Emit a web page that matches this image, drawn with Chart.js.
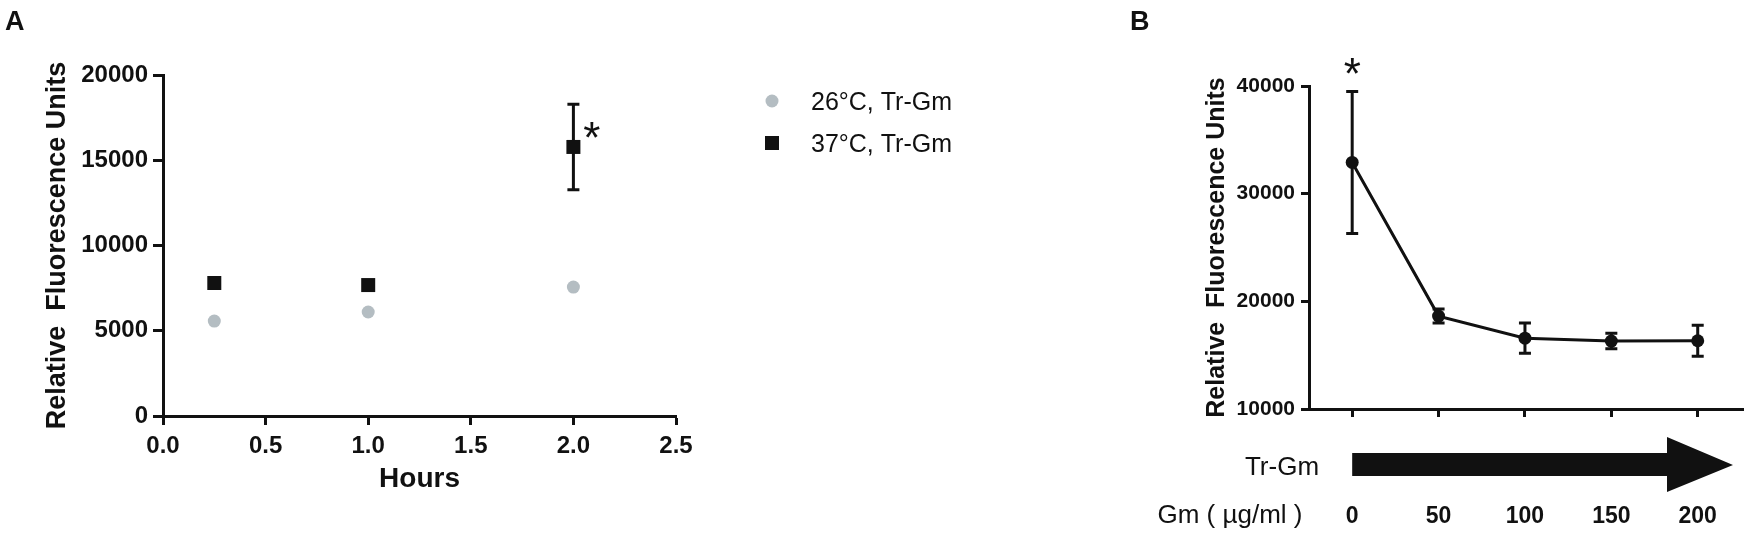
<!DOCTYPE html>
<html>
<head>
<meta charset="utf-8">
<script src="https://cdn.jsdelivr.net/npm/chart.js@4.4.1/dist/chart.umd.min.js"></script>
<style>
  html, body { margin: 0; padding: 0; background: #fff; }
  body { width: 1750px; height: 538px; position: relative; overflow: hidden; }
  canvas { position: absolute; top: 0; }
  #chart-a { left: 0; }
  #chart-b { left: 1050px; }
</style>
</head>
<body>
<canvas id="chart-a" width="1000" height="538"></canvas>
<canvas id="chart-b" width="700" height="538"></canvas>
<script>
'use strict';

/* ---------- Panel A: RFU over time ---------- */
const hours     = [0.25, 1.0, 2.0];
const rfu26     = [5570, 6100, 7560];
const rfu37     = [7800, 7680, 15780];
const err37     = [0, 0, 2510];
const hourTicks = [0, 0.5, 1.0, 1.5, 2.0, 2.5];
const rfuTicksA = [0, 5000, 10000, 15000, 20000];
const starA     = { x: 2.09, y: 16630 };

/* ---------- Panel B: Gm dose series ---------- */
const gmDoses   = [0, 50, 100, 150, 200];
const rfuDose   = [32900, 18630, 16580, 16310, 16340];
const errDose   = [6600, 650, 1400, 720, 1450];
const rfuTicksB = [10000, 20000, 30000, 40000];
const starB     = { x: 0, y: 41600 };

const INK  = '#111111';
const GRAY = '#b4bdc2';
const FONT = '"Liberation Sans", Arial, Helvetica, sans-serif';
const STAR_SIZE = 44;

Chart.defaults.font.family = FONT;
Chart.defaults.color = INK;

// fixed axis box so the plot area lands where the figure has it
function fixBox(size) {
  return scale => {
    if (scale.isHorizontal()) scale.height = size;
    else scale.width = size;
    scale.paddingTop = scale.paddingBottom = 0;
    scale.paddingLeft = scale.paddingRight = 0;
  };
}

function useTicks(values) {
  return scale => { scale.ticks = values.map(v => ({ value: v })); };
}

function toPoints(xs, ys) {
  return xs.map((x, i) => ({ x, y: ys[i] }));
}

function capText(ctx, text, x, cy, size, weight) {
  ctx.font = `${weight || 'normal'} ${size}px ${FONT}`;
  ctx.textBaseline = 'alphabetic';
  ctx.fillText(text, x, cy + size * 0.358);
}

function drawStar(chart, pt) {
  const { ctx, scales: { x, y } } = chart;
  ctx.save();
  ctx.fillStyle = INK;
  ctx.font = `${STAR_SIZE}px ${FONT}`;
  ctx.textAlign = 'center';
  ctx.textBaseline = 'alphabetic';
  ctx.fillText('*', x.getPixelForValue(pt.x), y.getPixelForValue(pt.y) + STAR_SIZE * 0.47);
  ctx.restore();
}

/* ---------- error bars (mean ± err) ---------- */
const errorBars = {
  id: 'errorBars',
  beforeDatasetsDraw(chart) {
    const { ctx, scales: { x, y } } = chart;
    chart.data.datasets.forEach(ds => {
      if (!ds.errors) return;
      ctx.save();
      ctx.strokeStyle = ds.pointBackgroundColor;
      ctx.lineWidth = 3;
      ds.data.forEach((p, j) => {
        const e = ds.errors[j];
        if (!e) return;
        const px  = x.getPixelForValue(p.x);
        const top = y.getPixelForValue(p.y + e);
        const bot = y.getPixelForValue(p.y - e);
        ctx.beginPath();
        ctx.moveTo(px, top);     ctx.lineTo(px, bot);
        ctx.moveTo(px - 6, top); ctx.lineTo(px + 6, top);
        ctx.moveTo(px - 6, bot); ctx.lineTo(px + 6, bot);
        ctx.stroke();
      });
      ctx.restore();
    });
  }
};

/* ---------- panel A extras: legend, star, letter ---------- */
const panelA = {
  id: 'panelA',
  afterDraw(chart) {
    const ctx = chart.ctx;
    ctx.save();
    ctx.fillStyle = INK;
    ctx.textAlign = 'left';
    capText(ctx, 'A', 5, 20, 27, 'bold');

    chart.data.datasets.forEach((ds, i) => {
      const cy = 101 + i * 42;
      ctx.fillStyle = ds.pointBackgroundColor;
      if (ds.pointStyle === 'rect') {
        ctx.fillRect(765, cy - 7, 14, 14);
      } else {
        ctx.beginPath();
        ctx.arc(772, cy, 6.5, 0, Math.PI * 2);
        ctx.fill();
      }
      ctx.fillStyle = INK;
      capText(ctx, ds.label, 811, cy, 25);
    });
    ctx.restore();
    drawStar(chart, starA);
  }
};

/* ---------- panel B extras: arrow, dose labels, star, letter ---------- */
const panelB = {
  id: 'panelB',
  afterDraw(chart) {
    const { ctx, scales: { x } } = chart;
    const x0 = x.getPixelForValue(gmDoses[0]);
    ctx.save();
    ctx.fillStyle = INK;
    ctx.textAlign = 'left';
    capText(ctx, 'B', 80, 20, 27, 'bold');

    // Tr-Gm arrow
    ctx.beginPath();
    ctx.moveTo(x0, 453);
    ctx.lineTo(617, 453);
    ctx.lineTo(617, 437);
    ctx.lineTo(683, 465);
    ctx.lineTo(617, 492);
    ctx.lineTo(617, 476);
    ctx.lineTo(x0, 476);
    ctx.closePath();
    ctx.fill();

    ctx.textAlign = 'center';
    capText(ctx, 'Tr-Gm', 232, 466, 26);
    capText(ctx, 'Gm ( µg/ml )', 180, 514, 26);
    ctx.restore();
    drawStar(chart, starB);
  }
};

function axisBase(tickLength) {
  return {
    type: 'linear',
    border: { display: true, color: INK, width: 3 },
    grid: { drawOnChartArea: false, drawTicks: true, tickLength, tickWidth: 3, tickColor: INK },
  };
}

/* ---------- Chart A ---------- */
new Chart(document.getElementById('chart-a'), {
  type: 'scatter',
  data: {
    datasets: [
      {
        label: '26°C, Tr-Gm',
        data: toPoints(hours, rfu26),
        pointStyle: 'circle',
        pointRadius: 6.5,
        pointBorderWidth: 0,
        pointBackgroundColor: GRAY,
      },
      {
        label: '37°C, Tr-Gm',
        data: toPoints(hours, rfu37),
        errors: err37,
        pointStyle: 'rect',
        pointRadius: 9.9,
        pointBorderWidth: 0,
        pointBackgroundColor: INK,
      },
    ],
  },
  options: {
    responsive: false,
    animation: false,
    layout: { padding: { left: 0, top: 75, right: 324, bottom: 0 } },
    plugins: { legend: { display: false }, tooltip: { enabled: false } },
    scales: {
      x: {
        ...axisBase(9),
        min: 0, max: 2.5,
        afterBuildTicks: useTicks(hourTicks),
        afterFit: fixBox(122),
        ticks: { padding: 7, autoSkip: false, maxRotation: 0, color: INK,
                 font: { size: 24, weight: 'bold' }, callback: v => v.toFixed(1) },
        title: { display: true, text: 'Hours', color: INK,
                 font: { size: 28, weight: 'bold' }, padding: { top: 0, bottom: 42 } },
      },
      y: {
        ...axisBase(10),
        min: 0, max: 20000,
        afterBuildTicks: useTicks(rfuTicksA),
        afterFit: fixBox(163),
        ticks: { padding: 5, autoSkip: false, color: INK,
                 font: { size: 24, weight: 'bold' }, callback: v => String(v) },
        title: { display: true, text: 'Relative  Fluorescence Units', color: INK,
                 font: { size: 27, weight: 'bold' }, padding: { top: 41, bottom: 0 } },
      },
    },
  },
  plugins: [errorBars, panelA],
});

/* ---------- Chart B ---------- */
new Chart(document.getElementById('chart-b'), {
  type: 'scatter',
  data: {
    datasets: [
      {
        label: 'Tr-Gm',
        data: toPoints(gmDoses, rfuDose),
        errors: errDose,
        showLine: true,
        borderColor: INK,
        borderWidth: 3,
        pointStyle: 'circle',
        pointRadius: 6.5,
        pointBorderWidth: 0,
        pointBackgroundColor: INK,
      },
    ],
  },
  options: {
    responsive: false,
    animation: false,
    layout: { padding: { left: 0, top: 86, right: 5, bottom: 0 } },
    plugins: { legend: { display: false }, tooltip: { enabled: false } },
    scales: {
      x: {
        ...axisBase(8),
        min: -25, max: 226.5,
        afterBuildTicks: useTicks(gmDoses),
        afterFit: fixBox(129),
        ticks: { padding: 86, autoSkip: false, maxRotation: 0, color: INK,
                 font: { size: 23, weight: 'bold' }, callback: v => String(v) },
      },
      y: {
        ...axisBase(8),
        min: 10000, max: 40000,
        afterBuildTicks: useTicks(rfuTicksB),
        afterFit: fixBox(259),
        ticks: { padding: 6, autoSkip: false, color: INK,
                 font: { size: 21, weight: 'bold' }, callback: v => String(v) },
        title: { display: true, text: 'Relative  Fluorescence Units', color: INK,
                 font: { size: 25, weight: 'bold' }, padding: { top: 152, bottom: 0 } },
      },
    },
  },
  plugins: [errorBars, panelB],
});
</script>
</body>
</html>
